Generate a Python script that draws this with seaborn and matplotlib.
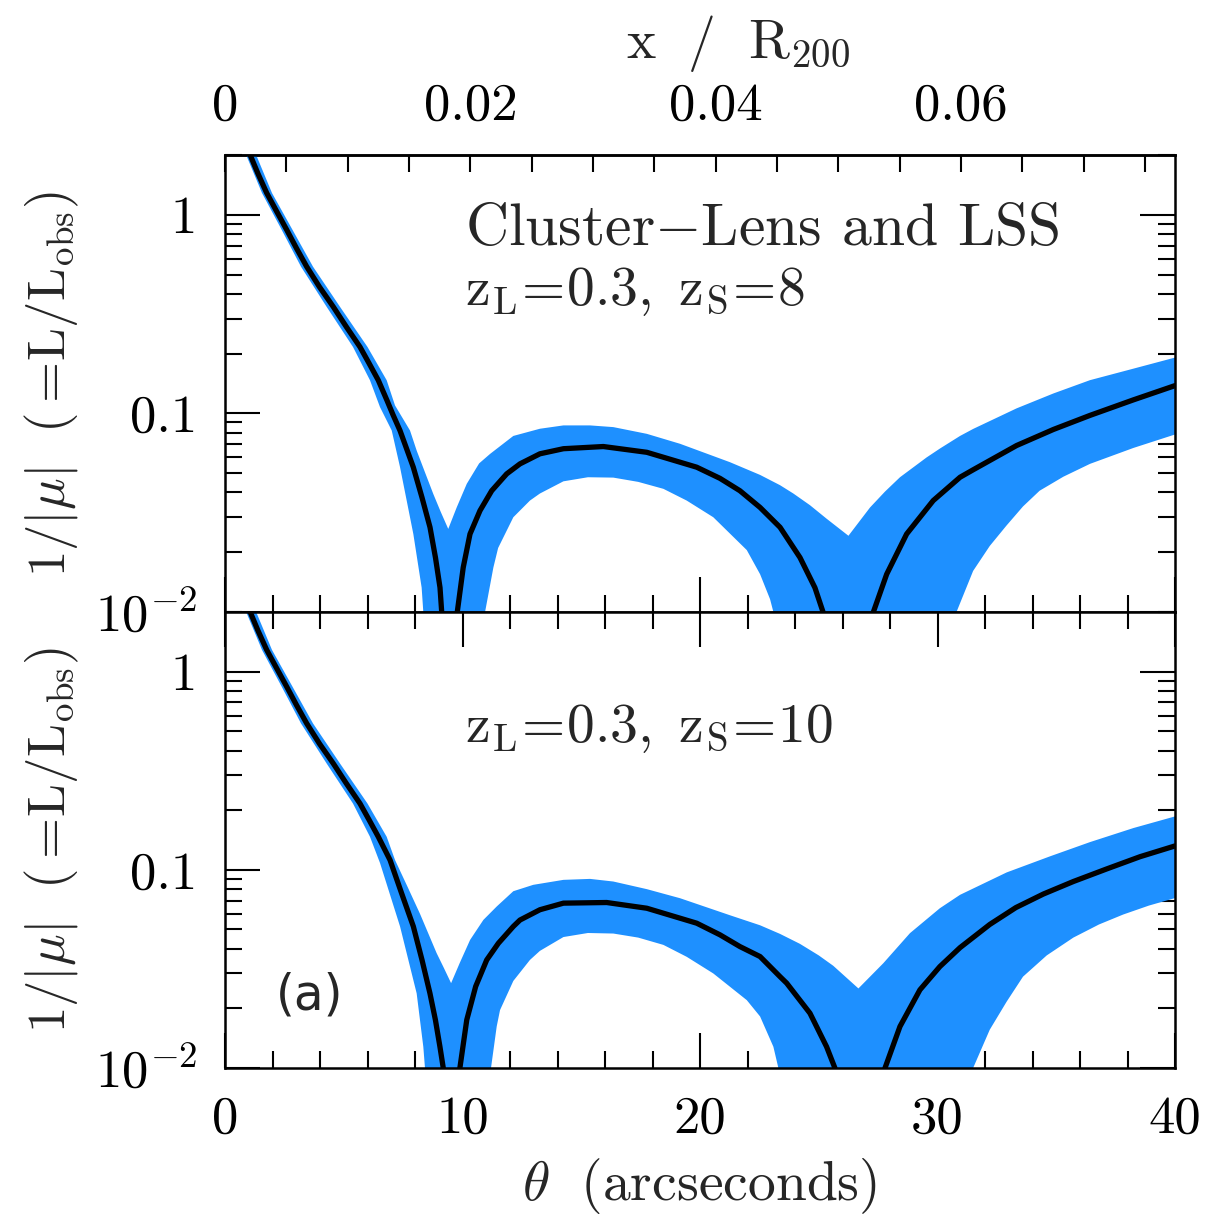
import numpy as np
import pandas as pd
import matplotlib
matplotlib.use("Agg")
import matplotlib.pyplot as plt
import seaborn as sns
from matplotlib.ticker import MultipleLocator, FixedLocator, LogLocator, NullFormatter

# ---------------- data ----------------
# top panel (z_S = 8): central curve
theta_c_top = [0.85, 1.053, 1.389, 1.756, 2.177, 2.598, 3.011, 3.44, 3.979, 4.56, 5.116, 5.684, 6.063, 6.455,
               6.82, 7.074, 7.368, 7.642, 7.928, 8.295, 8.632, 8.863, 9.053, 9.124, 9.3, 9.65,
               9.78, 10.03, 10.316, 10.737, 11.23, 11.86, 12.42, 13.26, 14.25, 15.93, 17.76, 19.86, 20.84,
               21.68, 22.53, 23.37, 24.21, 24.84, 25.18, 25.4, 27.1,
               27.3, 27.86, 28.70, 29.82, 30.95, 31.5, 33.33, 34.88, 36.42, 38.25, 40.0]
mu_c_top = [2.25, 2.01, 1.61, 1.287, 1.039, 0.840, 0.678, 0.548, 0.433, 0.344, 0.272, 0.216, 0.179, 0.1468,
            0.1163, 0.0984, 0.0820, 0.0666, 0.0536, 0.0377, 0.0267, 0.01875, 0.01327, 0.0100, 0.002, 0.002,
            0.0100, 0.01675, 0.0247, 0.0324, 0.0408, 0.0496, 0.0557, 0.0626, 0.0664, 0.0681, 0.0637, 0.0536, 0.0471,
            0.0408, 0.0336, 0.0267, 0.0188, 0.01325, 0.0100, 0.002, 0.002,
            0.0100, 0.0155, 0.0247, 0.0364, 0.0477, 0.052, 0.0689, 0.083, 0.0977, 0.117, 0.138]

# top panel: upper edge of the band
theta_u_top = [1.0, 1.305, 1.979, 2.842, 3.705, 4.842, 6.0, 6.808, 7.158, 7.79, 8.07, 8.42, 8.77, 9.08, 9.40,
               9.755, 10.18, 10.7, 11.16, 12.14, 13.26, 14.25, 15.37, 16.35, 17.76, 19.16, 21.26, 22.53,
               23.37, 23.93, 24.63, 25.33, 26.25, 27.16, 27.79, 28.42, 29.54, 30.1, 30.95, 31.5, 33.33,
               34.88, 36.42, 38.25, 40.0]
mu_u_top = [2.4, 2.01, 1.287, 0.840, 0.548, 0.344, 0.216, 0.1468, 0.1097, 0.0820, 0.0650, 0.0505, 0.0393,
            0.0320, 0.0262, 0.0336, 0.0442, 0.056, 0.0625, 0.077, 0.0837, 0.087, 0.087, 0.0853, 0.0789,
            0.0703, 0.0568, 0.049, 0.0435, 0.0395, 0.0345, 0.0295, 0.0242, 0.0336, 0.0404, 0.0477, 0.060,
            0.0665, 0.077, 0.0835, 0.106, 0.126, 0.147, 0.168, 0.191]

# top panel: lower edge of the band
theta_l_top = [0.75, 0.884, 1.558, 2.387, 3.2, 4.28, 5.39, 6.105, 6.526, 7.02, 7.37, 7.65, 7.93, 8.28, 8.35,
               8.55, 10.75, 10.95, 11.3, 11.5, 12.14, 12.84, 13.26, 14.25, 15.28, 16.35, 17.4, 18.46, 19.44,
               20.56, 21.97, 22.53, 22.95, 23.09, 23.3, 30.6, 30.8, 31.5, 32.2, 32.9, 33.6, 34.3, 35.3,
               36.42, 38.25, 40.0]
mu_l_top = [2.3, 2.01, 1.287, 0.840, 0.548, 0.344, 0.216, 0.1468, 0.1076, 0.0820, 0.0536, 0.0364, 0.0247,
            0.01327, 0.0100, 0.001, 0.001, 0.0100, 0.01675, 0.021, 0.0300, 0.0364, 0.0395, 0.0455, 0.0477,
            0.0475, 0.0452, 0.0417, 0.0364, 0.0300, 0.0205, 0.0155, 0.0116, 0.0100, 0.001, 0.001, 0.0100,
            0.0161, 0.0215, 0.0272, 0.034, 0.0408, 0.048, 0.0557, 0.0670, 0.0783]

# bottom panel (z_S = 10): central curve
theta_c_bot = [0.85, 1.053, 1.389, 1.756, 2.177, 2.598, 3.011, 3.44, 3.979, 4.56, 5.116, 5.684, 6.063, 6.455,
               6.95, 7.43, 7.93, 8.295, 8.63, 8.86, 9.05, 9.19, 9.37, 9.72,
               9.89, 10.18, 10.555, 11.02, 11.51, 12.14, 12.42, 13.26, 14.25, 16.07, 17.76, 19.86, 20.84,
               21.68, 22.53, 23.37, 23.65, 24.63, 25.33, 25.68, 25.9, 27.55,
               27.79, 28.42, 29.26, 30.1, 30.95, 32.2, 33.3, 34.46, 35.72, 37.12, 38.53, 40.0]
mu_c_bot = [2.25, 2.01, 1.61, 1.287, 1.039, 0.840, 0.678, 0.548, 0.433, 0.344, 0.272, 0.216, 0.179, 0.1468,
            0.112, 0.0765, 0.0518, 0.0351, 0.0238, 0.01747, 0.0128, 0.0100, 0.002, 0.002,
            0.0100, 0.0175, 0.0258, 0.0351, 0.0426, 0.0518, 0.0558, 0.0629, 0.0679, 0.0684, 0.064, 0.0538, 0.047,
            0.041, 0.0365, 0.0289, 0.0268, 0.0189, 0.0128, 0.0100, 0.002, 0.002,
            0.0100, 0.0162, 0.0248, 0.0325, 0.0405, 0.0530, 0.0645, 0.0755, 0.0873, 0.101, 0.1165, 0.132]

# bottom panel: upper edge
theta_u_bot = [1.0, 1.305, 1.979, 2.842, 3.705, 4.842, 6.0, 6.808, 7.16, 7.68, 8.21, 8.91, 9.22, 9.52,
               9.88, 10.32, 10.88, 11.44, 12.14, 12.98, 14.25, 15.37, 16.35, 17.76, 19.16, 21.26, 22.53,
               23.37, 24.21, 25.0, 25.61, 26.67, 27.72, 28.84, 30.1, 30.95, 32.91, 34.74, 36.42, 38.25, 40.0]
mu_u_bot = [2.4, 2.01, 1.287, 0.840, 0.548, 0.344, 0.216, 0.1468, 0.112, 0.0824, 0.060, 0.038, 0.0319, 0.0268,
            0.0338, 0.0443, 0.0559, 0.0653, 0.078, 0.084, 0.089, 0.090, 0.0873, 0.0799, 0.0719, 0.059, 0.0525,
            0.0475, 0.0423, 0.037, 0.0328, 0.0252, 0.0338, 0.0479, 0.064, 0.0748, 0.097, 0.117, 0.138, 0.1625,
            0.186]

# bottom panel: lower edge
theta_l_bot = [0.75, 0.884, 1.558, 2.387, 3.2, 4.28, 5.39, 6.105, 6.53, 7.37, 7.72, 8.07, 8.35, 8.42, 8.6,
               11.0, 11.2, 11.44, 11.58, 12.14, 12.84, 13.26, 14.25, 15.28, 16.35, 17.4, 18.46, 19.44, 20.56,
               21.97, 22.53, 23.09, 23.3, 23.5, 31.3, 31.5, 32.2, 32.91, 33.6, 34.6, 35.72, 36.8, 37.82,
               38.9, 40.0]
mu_l_bot = [2.3, 2.01, 1.287, 0.840, 0.548, 0.344, 0.216, 0.1468, 0.108, 0.0518, 0.0351, 0.0238, 0.0128,
            0.0100, 0.001, 0.001, 0.0100, 0.0162, 0.0196, 0.0275, 0.0351, 0.039, 0.0458, 0.048, 0.0477,
            0.0455, 0.0418, 0.0364, 0.0300, 0.022, 0.0182, 0.0128, 0.0100, 0.001, 0.001, 0.0100, 0.0156,
            0.0216, 0.0289, 0.037, 0.0455, 0.0530, 0.0595, 0.066, 0.072]

x_ticks = [0, 10, 20, 30, 40]
x_ticklabels = ["0", "10", "20", "30", "40"]
y_ticks = [0.01, 0.1, 1]
y_ticklabels = [r"$10^{-2}$", "0.1", "1"]
r200_ticks = [0.0, 0.02, 0.04, 0.06]
r200_ticklabels = ["0", "0.02", "0.04", "0.06"]
ARCSEC_PER_R200 = 516.5

BAND = "#1E90FF"

# ---------------- style ----------------
sns.set_theme(style="ticks")
plt.rcParams.update({
    "font.family": ["cmr10", "DejaVu Serif"],
    "mathtext.fontset": "cm",
    "axes.unicode_minus": False,
    "axes.formatter.use_mathtext": True,
    "axes.linewidth": 1.8,
    "axes.edgecolor": "black",
    "xtick.color": "black",
    "ytick.color": "black",
})

fig = plt.figure(figsize=(12.12, 12.15), dpi=100)
W, H = 1212.0, 1215.0
L, R = 225 / W, 1175 / W
ax_top = fig.add_axes([L, 1 - 612 / H, R - L, (612 - 155) / H])
ax_bot = fig.add_axes([L, 1 - 1068 / H, R - L, (1068 - 612) / H])


def draw_panel(ax, tc, c, tu, u, tl, l):
    xs = np.concatenate([np.asarray(tu), np.asarray(tl)[::-1]])
    ys = np.concatenate([np.asarray(u), np.asarray(l)[::-1]])
    ax.fill(xs, ys, color=BAND, lw=0, zorder=1)
    df = pd.DataFrame({"theta": tc, "mu": c})
    sns.lineplot(data=df, x="theta", y="mu", ax=ax, color="black", lw=3.8,
                 sort=False, estimator=None, zorder=3)
    ax.set_yscale("log")
    ax.set_xlim(0, 40)
    ax.set_ylim(0.01, 2.0)
    ax.set_xlabel("")
    ax.set_ylabel("")
    ax.xaxis.set_major_locator(FixedLocator(x_ticks))
    ax.xaxis.set_minor_locator(MultipleLocator(2))
    ax.yaxis.set_major_locator(FixedLocator(y_ticks))
    ax.yaxis.set_minor_locator(LogLocator(base=10, subs=np.arange(2, 10)))
    ax.yaxis.set_minor_formatter(NullFormatter())
    ax.set_yticklabels(y_ticklabels)
    ax.tick_params(which="major", direction="in", length=25, width=1.5,
                   left=True, right=True, labelsize=38, pad=20)
    ax.tick_params(which="minor", direction="in", length=12, width=1.5,
                   left=True, right=True)
    for s in ax.spines.values():
        s.set_linewidth(1.8)
        s.set_color("black")
    ax.text(-0.182, 0.5, r"$1/|\mu|\ \ (=\!\mathrm{L/L_{obs}})$", transform=ax.transAxes,
            rotation=90, ha="center", va="center", fontsize=38)


draw_panel(ax_top, theta_c_top, mu_c_top, theta_u_top, mu_u_top, theta_l_top, mu_l_top)
draw_panel(ax_bot, theta_c_bot, mu_c_bot, theta_u_bot, mu_u_bot, theta_l_bot, mu_l_bot)

ax_top.tick_params(axis="x", which="both", top=False, bottom=True, labelbottom=False)
ax_bot.tick_params(axis="x", which="both", top=True, bottom=True, labelbottom=True)
ax_bot.set_xticklabels(x_ticklabels)
ax_bot.tick_params(axis="x", which="major", pad=20, labelsize=38)

# top axis in units of R200
sec = ax_top.secondary_xaxis("top", functions=(lambda t: t / ARCSEC_PER_R200,
                                               lambda x: x * ARCSEC_PER_R200))
sec.xaxis.set_major_locator(FixedLocator(r200_ticks))
sec.xaxis.set_minor_locator(MultipleLocator(0.005))
sec.set_xticklabels(r200_ticklabels)
sec.tick_params(which="both", direction="in", length=12, width=1.5, labelsize=38, pad=18)
sec.spines["top"].set_linewidth(1.8)
ax_top.text(0.54, 1.245, r"$\mathrm{x\ \ /\ \ R_{200}}$", transform=ax_top.transAxes,
            ha="center", va="center", fontsize=40)

ax_bot.text(0.5, -0.258, r"$\theta\ \ \mathrm{(arcseconds)}$", transform=ax_bot.transAxes,
            ha="center", va="center", fontsize=40)

# annotations
ax_top.text(0.2526, 0.803, r"Cluster$-$Lens and LSS", transform=ax_top.transAxes,
            ha="left", va="baseline", fontsize=43)
ax_top.text(0.2526, 0.672, r"$\mathrm{z_L\!=\!0.3,\ z_S\!=\!8}$", transform=ax_top.transAxes,
            ha="left", va="baseline", fontsize=40)
ax_bot.text(0.2526, 0.715, r"$\mathrm{z_L\!=\!0.3,\ z_S\!=\!10}$", transform=ax_bot.transAxes,
            ha="left", va="baseline", fontsize=40)
ax_bot.text(0.089, 0.16, "(a)", transform=ax_bot.transAxes, ha="center", va="center",
            fontsize=35, family="DejaVu Sans")

fig.savefig("out.png", dpi=100)
